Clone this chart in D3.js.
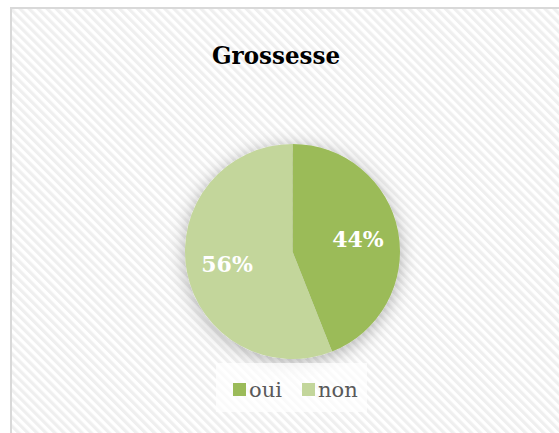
<!DOCTYPE html>
<html>
<head>
<meta charset="utf-8">
<script src="https://cdn.jsdelivr.net/npm/d3@7"></script>
<style>
  body { margin: 0; background: #fff; }
  svg { display: block; }
</style>
</head>
<body>
<script>
// Grossesse pie chart

var categories = ["oui", "non"];
var values = [44, 56];
var colors = ["#9BBB59", "#C3D69B"];

var width = 559, height = 433;

var svg = d3.select("body").append("svg")
    .attr("width", width)
    .attr("height", height);

var defs = svg.append("defs");

// diagonal stripes of the chart area
var pat = defs.append("pattern")
    .attr("id", "stripes")
    .attr("patternUnits", "userSpaceOnUse")
    .attr("width", 6.4)
    .attr("height", 6.4)
    .attr("patternTransform", "rotate(-45)");
pat.append("rect").attr("width", 6.4).attr("height", 6.4).attr("fill", "#ffffff");
pat.append("rect").attr("width", 3.2).attr("height", 6.4).attr("fill", "#efefef");

var shadow = defs.append("filter")
    .attr("id", "shadow")
    .attr("x", "-40%").attr("y", "-40%")
    .attr("width", "180%").attr("height", "180%");
shadow.append("feDropShadow")
    .attr("dx", 0).attr("dy", 3)
    .attr("stdDeviation", 9)
    .attr("flood-color", "#000")
    .attr("flood-opacity", 0.3);

// background + border
svg.append("rect")
    .attr("x", 11).attr("y", 8)
    .attr("width", width + 10).attr("height", height + 10)
    .attr("fill", "url(#stripes)")
    .attr("stroke", "#d9d9d9")
    .attr("stroke-width", 2);

// title
svg.append("text")
    .attr("x", 276)
    .attr("y", 64)
    .attr("text-anchor", "middle")
    .attr("textLength", 128)
    .attr("lengthAdjust", "spacingAndGlyphs")
    .style("font-family", "'DejaVu Serif', serif")
    .style("font-weight", "bold")
    .style("font-size", "25px")
    .attr("fill", "#000")
    .text("Grossesse");

var cx = 292.5, cy = 251.5, radius = 107.5;

var pie = d3.pie().sort(null).value(function(d) { return d; });
var arc = d3.arc().innerRadius(0).outerRadius(radius);
var labelArc = d3.arc().innerRadius(radius * 0.62).outerRadius(radius * 0.62);

var g = svg.append("g")
    .attr("transform", "translate(" + cx + "," + cy + ")");

var arcs = pie(values);

g.append("g")
    .attr("filter", "url(#shadow)")
    .selectAll("path")
    .data(arcs)
    .enter().append("path")
    .attr("d", arc)
    .attr("fill", function(d, i) { return colors[i]; });

g.selectAll(".lbl")
    .data(arcs)
    .enter().append("text")
    .attr("class", "lbl")
    .attr("transform", function(d) { return "translate(" + labelArc.centroid(d) + ")"; })
    .attr("text-anchor", "middle")
    .attr("dy", "0.36em")
    .style("font-family", "'DejaVu Serif', serif")
    .style("font-weight", "bold")
    .style("font-size", "22px")
    .attr("fill", "#fff")
    .text(function(d) { return d.value + "%"; });

// legend
svg.append("rect")
    .attr("x", 216).attr("y", 363)
    .attr("width", 151).attr("height", 49)
    .attr("fill", "#fff")
    .attr("fill-opacity", 0.7);

var legendX = [233, 302];
var leg = svg.selectAll(".leg")
    .data(categories)
    .enter().append("g")
    .attr("class", "leg")
    .attr("transform", function(d, i) { return "translate(" + legendX[i] + ",383)"; });

leg.append("rect")
    .attr("width", 13).attr("height", 13)
    .attr("fill", function(d, i) { return colors[i]; });

leg.append("text")
    .attr("x", 16)
    .attr("y", 14)
    .style("font-family", "'DejaVu Serif', serif")
    .style("font-size", "21px")
    .attr("fill", "#595959")
    .text(function(d) { return d; });
</script>
</body>
</html>
